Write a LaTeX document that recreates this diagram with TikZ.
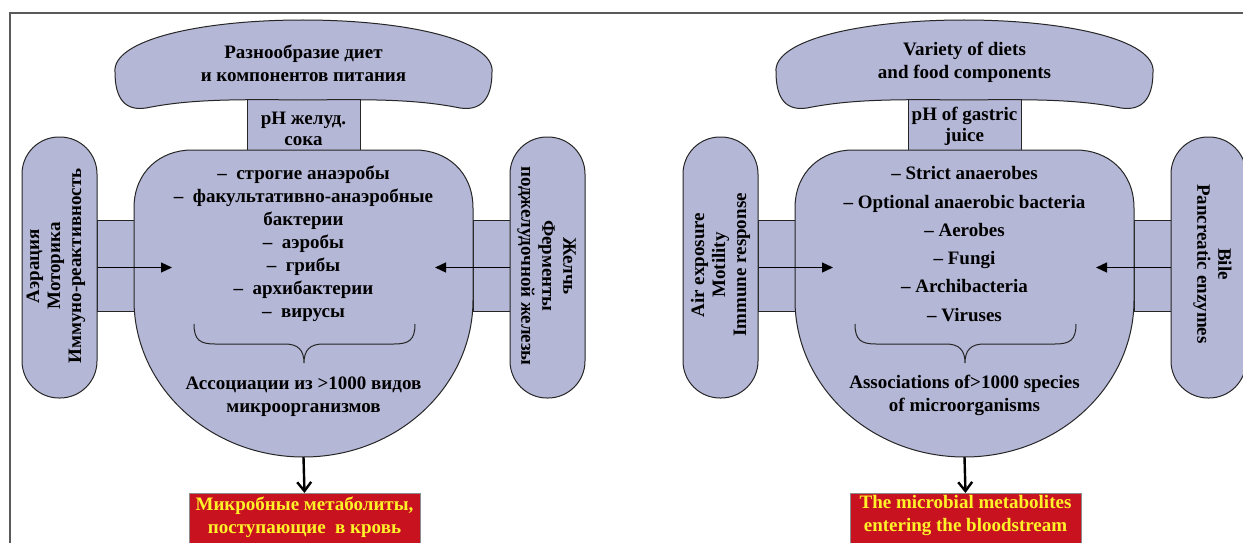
\documentclass[tikz,border=0pt]{standalone}
\usepackage{fontspec}
\setmainfont{Liberation Serif}
\usetikzlibrary{arrows.meta}
\definecolor{lav}{RGB}{180,183,214}
\definecolor{redbox}{RGB}{200,18,32}
\definecolor{yel}{RGB}{255,242,40}
\definecolor{framegray}{RGB}{90,90,90}
\tikzset{
  shp/.style={fill=lav, draw=black!85, line width=1pt},
  txt/.style={font=\bfseries\fontsize{19}{23}\selectfont, align=center, inner sep=0pt, text=black},
  pilltxt/.style={font=\bfseries\fontsize{19}{21}\selectfont, align=center, inner sep=0pt},
  pill/.style={shp, rounded corners=37, minimum width=261, minimum height=75, inner sep=0pt},
  sidearr/.style={line width=1.3pt, -{Triangle[length=11pt, width=10pt]}},
  downarr/.style={line width=2.4pt, -{Straight Barb[length=9pt, width=14pt, line width=2.4pt]}},
  redstyle/.style={fill=redbox, draw=black!45, line width=1pt, minimum width=231, minimum height=62, inner sep=0pt},
  bracestyle/.style={draw=black!85, line width=1pt}
}
% shapes common to both panels; #1 = name suffix
\newcommand{\panelshapes}[1]{%
  \draw[shp] (97,220) rectangle (134,311);
  \draw[shp] (473,220) rectangle (510,311);
  \node[shp, minimum width=113, minimum height=50, inner sep=0pt] (ph#1) at (303.5,125) {};
  \draw[shp] (115,72) .. controls (112,40) and (200,20) .. (303,20)
     .. controls (406,20) and (495,40) .. (492,72)
     .. controls (492,100) and (480,111) .. (460,108)
     .. controls (420,100) and (380,99) .. (303,100)
     .. controls (226,99) and (186,100) .. (146,108)
     .. controls (126,111) and (115,100) .. (115,72) -- cycle;
  \draw[shp] (134,300) -- (134,208) .. controls (134,172) and (160,150) .. (192,150)
     -- (415,150) .. controls (447,150) and (473,172) .. (473,208) -- (473,300)
     .. controls (473,386.7) and (397.1,457) .. (303.5,457)
     .. controls (209.9,457) and (134,386.7) .. (134,300) -- cycle;
  \node[pill, rotate=90] (lpill#1) at (59.5,267.5) {};
  \node[pill, rotate=-90] (rpill#1) at (547.5,267.5) {};
  \draw[bracestyle] (194,324) .. controls (194,340) and (200,344) .. (215,344) -- (285,344)
     .. controls (298,344) and (304,350) .. (304,363)
     .. controls (304,350) and (310,344) .. (323,344) -- (394,344)
     .. controls (409,344) and (415,340) .. (415,324);
  \coordinate (ltip#1) at (172,267.5);
  \coordinate (rtip#1) at (435,267.5);
  \draw[sidearr] (lpill#1.south) -- (ltip#1);
  \draw[sidearr] (rpill#1.south) -- (rtip#1);
  \coordinate (mb#1) at (303.5,457);
  \node[redstyle, anchor=north] (red#1) at (304.5,493) {};
  \draw[downarr] (mb#1) -- (red#1.north);
}
\begin{document}
\begin{tikzpicture}[x=1pt,y=-1pt]
\useasboundingbox (0,0) rectangle (1243,543);
\clip (0,0) rectangle (1243,543);
\fill[white] (0,0) rectangle (1243,543);
\draw[framegray, line width=1.6pt] (10,545) -- (10,13) -- (1245,13);

% ---------- left panel (Russian) ----------
\begin{scope}
  \panelshapes{L}
  \node[txt] (cloudtxtL) at (303.5,63.5) {Разнообразие диет\\и компонентов питания};
  \node[txt, font=\bfseries\fontsize{19}{21}\selectfont] (phtxtL) at (303.5,128.5) {рН желуд.\\сока};
  \node[txt] (listL) at (303.5,244) {–\ \ строгие анаэробы\\–\ \ факультативно-анаэробные\\бактерии\\–\ \ аэробы\\–\ \ грибы\\–\ \ архибактерии\\–\ \ вирусы};
  \node[txt] (assocL) at (303.5,396.5) {Ассоциации из >1000 видов\\микроорганизмов};
  \node[pilltxt, rotate=90] (lpilltxtL) at (56,266) {Аэрация\\Моторика\\Иммуно-реактивность};
  \node[pilltxt, rotate=-90] (rpilltxtL) at (546.5,266) {Желчь\\Ферменты\\поджелудочной железы};
  \node[txt, text=yel] (redtxtL) at (304.5,517.5) {Микробные метаболиты,\\поступающие\ \ в кровь};
\end{scope}

% ---------- right panel (English) ----------
\begin{scope}[xshift=661]
  \panelshapes{R}
  \node[txt] (cloudtxtR) at (303.5,62.5) {Variety of diets\\and food components};
  \node[txt, font=\bfseries\fontsize{19}{21}\selectfont] (phtxtR) at (303.5,126.5) {pH of gastric\\juice};
  \node[txt, font=\bfseries\fontsize{19}{28.3}\selectfont] (listR) at (303.5,244) {– Strict anaerobes\\– Optional anaerobic bacteria\\– Aerobes\\– Fungi\\– Archibacteria\\– Viruses};
  \node[txt] (assocR) at (303.5,395.5) {Associations of>1000 species\\of microorganisms};
  \node[pilltxt, rotate=90] (lpilltxtR) at (59.5,265) {Air exposure\\Motility\\Immune response};
  \node[pilltxt, rotate=-90] (rpilltxtR) at (551.5,264) {Bile\\Pancreatic enzymes};
  \node[txt, text=yel] (redtxtR) at (304.5,516) {The microbial metabolites\\entering the bloodstream};
\end{scope}
\end{tikzpicture}
\end{document}
